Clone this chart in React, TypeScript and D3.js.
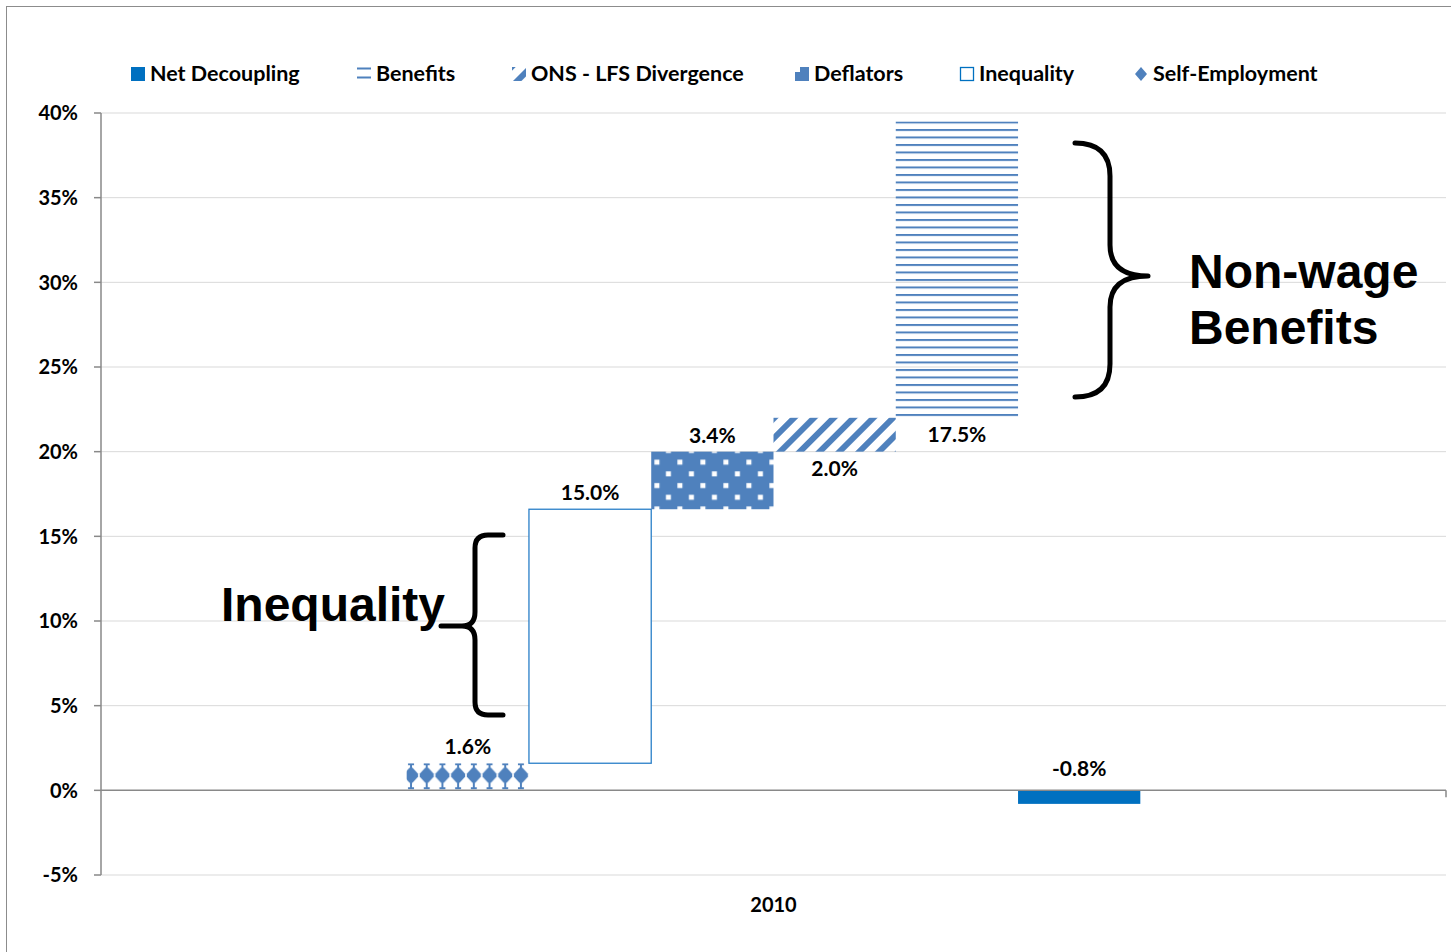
import React from "react";
import * as d3 from "d3";

// ---------- data ----------
const categories = ["Self-Employment", "Inequality", "Deflators", "ONS - LFS Divergence", "Benefits", "Net Decoupling"];
const values = [1.6, 15.0, 3.4, 2.0, 17.5, -0.8];
const startsFromZero = [false, false, false, false, false, true];
const labelSide = ["above", "above", "above", "below", "below", "above"];
const legendOrder = ["Net Decoupling", "Benefits", "ONS - LFS Divergence", "Deflators", "Inequality", "Self-Employment"];
const yTicks = [-5, 0, 5, 10, 15, 20, 25, 30, 35, 40];
const xCategory = "2010";

// ---------- layout ----------
const W = 1451;
const H = 952;
const plot = { left: 101, right: 1446, top: 113, bottom: 875 };
const legendX = [131, 357, 512, 795, 960, 1134];
const BLUE = "#4F81BD";
const SOLID = "#0070C0";
const FONT = "Lato, 'Open Sans', sans-serif";
const ANNOT_FONT = "'Liberation Sans', Arial, sans-serif";

const fillFor: Record<string, string> = {
  "Self-Employment": "url(#pDiamond)",
  Inequality: "#ffffff",
  Deflators: "url(#pDots)",
  "ONS - LFS Divergence": "url(#pDiag)",
  Benefits: "url(#pHLines)",
  "Net Decoupling": SOLID,
};

export default function App() {
  const x = d3.scaleBand<string>().domain(categories).range([plot.left, plot.right]).paddingInner(0).paddingOuter(2.5);
  const y = d3.scaleLinear().domain([-5, 40]).range([plot.bottom, plot.top]);
  const fmt = (v: number) => d3.format(".1f")(v).replace("\u2212", "-") + "%";

  // waterfall bases
  let running = 0;
  const bars = categories.map((c, i) => {
    const base = startsFromZero[i] ? 0 : running;
    const end = base + values[i];
    if (!startsFromZero[i]) running = end;
    return { c, i, base, end, v: values[i] };
  });

  const bw = x.bandwidth();
  const diamondBar = bars[0];
  const dotBar = bars[2];

  const diamondShape = (cx: number, oy: number, key: string) => (
    <g key={key} fill={BLUE}>
      <rect x={cx - 3} y={oy} width={6} height={2} />
      <rect x={cx - 1} y={oy + 2} width={2} height={3} />
      <polygon
        points={[
          [cx - 1.5, oy + 4.5], [cx + 1.5, oy + 4.5], [cx + 7, oy + 10.5], [cx + 7, oy + 13.5],
          [cx + 1.5, oy + 19.5], [cx - 1.5, oy + 19.5], [cx - 7, oy + 13.5], [cx - 7, oy + 10.5],
        ].map((p) => p.join(",")).join(" ")}
      />
      <rect x={cx - 1} y={oy + 19} width={2} height={5} />
      <rect x={cx - 3} y={oy + 24} width={6} height={2} />
    </g>
  );

  return (
    <svg width={W} height={H} style={{ position: "absolute", left: 0, top: 0, background: "#fff" }}>
      <defs>
        <pattern id="pHLines" patternUnits="userSpaceOnUse" x={0} y={y(39.5)} width={8} height={7.5}>
          <rect x={0} y={0} width={8} height={2} fill={BLUE} />
        </pattern>
        <pattern id="pDiag" patternUnits="userSpaceOnUse" width={14} height={14} patternTransform="rotate(45)">
          <rect x={0} y={0} width={6} height={14} fill={BLUE} />
        </pattern>
        <pattern id="pDots" patternUnits="userSpaceOnUse" x={x(dotBar.c)} y={y(dotBar.end)} width={23} height={23.4}>
          <rect x={0} y={0} width={23} height={23.4} fill={BLUE} />
          <rect x={3.2} y={8} width={5} height={5} fill="#fff" />
          <rect x={14.7} y={19.7} width={5} height={5} fill="#fff" />
          <rect x={14.7} y={-3.7} width={5} height={5} fill="#fff" />
        </pattern>
        <pattern id="pDiamond" patternUnits="userSpaceOnUse" x={(x(diamondBar.c) as number) - 3.5} y={y(diamondBar.end)} width={15.7} height={27}>
          {diamondShape(7.85, 0, "d")}
        </pattern>
      </defs>

      {/* chart border */}
      <rect x={6.5} y={6.5} width={1470} height={970} fill="none" stroke="#8c8c8c" strokeWidth={1} />

      {/* gridlines */}
      {yTicks.filter((t) => t !== 0).map((t) => (
        <line key={t} x1={plot.left} x2={plot.right} y1={y(t)} y2={y(t)} stroke="#d9d9d9" strokeWidth={1} />
      ))}

      {/* y axis */}
      <line x1={plot.left} x2={plot.left} y1={plot.top} y2={plot.bottom} stroke="#898989" strokeWidth={1.5} />
      {yTicks.map((t) => (
        <g key={t}>
          <line x1={plot.left - 7} x2={plot.left} y1={y(t)} y2={y(t)} stroke="#898989" strokeWidth={1.5} />
          <text x={78} y={y(t)} dy="0.36em" textAnchor="end" fontFamily={FONT} fontWeight={700} fontSize={20} fill="#000">
            {t}%
          </text>
        </g>
      ))}

      {/* bars */}
      {bars.map((b) => {
        const y0 = Math.min(y(b.base), y(b.end));
        const h = Math.abs(y(b.base) - y(b.end));
        const isIneq = b.c === "Inequality";
        return (
          <rect
            key={b.c}
            x={x(b.c)}
            y={y0}
            width={bw}
            height={h}
            fill={fillFor[b.c]}
            stroke={isIneq ? "#2a7fc8" : "none"}
            strokeWidth={isIneq ? 1.3 : 0}
          />
        );
      })}

      {/* zero axis line */}
      <line x1={plot.left} x2={plot.right} y1={y(0)} y2={y(0)} stroke="#898989" strokeWidth={1.5} />
      <line x1={plot.right} x2={plot.right} y1={y(0)} y2={y(0) + 7} stroke="#898989" strokeWidth={1.5} />

      {/* data labels */}
      {bars.map((b, i) => {
        const top = y(Math.max(b.base, b.end));
        const bottom = y(Math.min(b.base, b.end));
        const ly = labelSide[i] === "above" ? top - (b.v < 0 ? 14 : 9) : bottom + 24;
        return (
          <text key={b.c} x={(x(b.c) as number) + bw / 2} y={ly} textAnchor="middle" fontFamily={FONT} fontWeight={700} fontSize={21} fill="#000">
            {fmt(b.v)}
          </text>
        );
      })}

      {/* category label */}
      <text x={(plot.left + plot.right) / 2} y={912} textAnchor="middle" fontFamily={FONT} fontWeight={700} fontSize={20} fill="#000">
        {xCategory}
      </text>

      {/* legend */}
      {legendOrder.map((name, i) => {
        const lx = legendX[i];
        let icon: React.ReactNode = null;
        if (name === "Net Decoupling") icon = <rect x={lx} y={67} width={14} height={14} fill={SOLID} />;
        else if (name === "Benefits")
          icon = (
            <g fill={BLUE}>
              <rect x={lx} y={67.5} width={14} height={2} />
              <rect x={lx} y={76.5} width={14} height={2} />
            </g>
          );
        else if (name === "ONS - LFS Divergence") icon = <rect x={lx} y={67} width={14} height={14} fill="url(#pDiag)" />;
        else if (name === "Deflators")
          icon = (
            <g>
              <rect x={lx} y={67} width={14} height={14} fill={BLUE} />
              <rect x={lx} y={67} width={5} height={5} fill="#fff" />
            </g>
          );
        else if (name === "Inequality") icon = <rect x={lx + 0.5} y={67.5} width={13} height={13} fill="#fff" stroke={SOLID} strokeWidth={1.3} />;
        else
          icon = (
            <polygon
              points={`${lx + 7},${67} ${lx + 13},${74} ${lx + 7},${81} ${lx + 1},${74}`}
              fill={BLUE}
            />
          );
        return (
          <g key={name}>
            {icon}
            <text x={lx + 19} y={81} fontFamily={FONT} fontWeight={700} fontSize={21.5} fill="#000">
              {name}
            </text>
          </g>
        );
      })}

      {/* annotations */}
      <path
        d="M 503 535 L 488 535 Q 475 535 475 548 L 475 612 Q 475 626 462 626 L 441 626 M 462 626 Q 475 626 475 640 L 475 702 Q 475 715 488 715 L 503 715"
        fill="none"
        stroke="#000"
        strokeWidth={5}
        strokeLinecap="round"
        strokeLinejoin="round"
      />
      <text x={221} y={621} fontFamily={ANNOT_FONT} fontWeight={700} fontSize={48} fill="#000">
        Inequality
      </text>

      <path
        d="M 1075 143 Q 1110 143 1110 176 L 1110 245 Q 1110 276 1148 276 Q 1110 276 1110 307 L 1110 364 Q 1110 397 1075 397"
        fill="none"
        stroke="#000"
        strokeWidth={5}
        strokeLinecap="round"
        strokeLinejoin="round"
      />
      <text x={1189} y={288} fontFamily={ANNOT_FONT} fontWeight={700} fontSize={48} fill="#000">
        Non-wage
      </text>
      <text x={1189} y={344} fontFamily={ANNOT_FONT} fontWeight={700} fontSize={48} fill="#000">
        Benefits
      </text>
    </svg>
  );
}
